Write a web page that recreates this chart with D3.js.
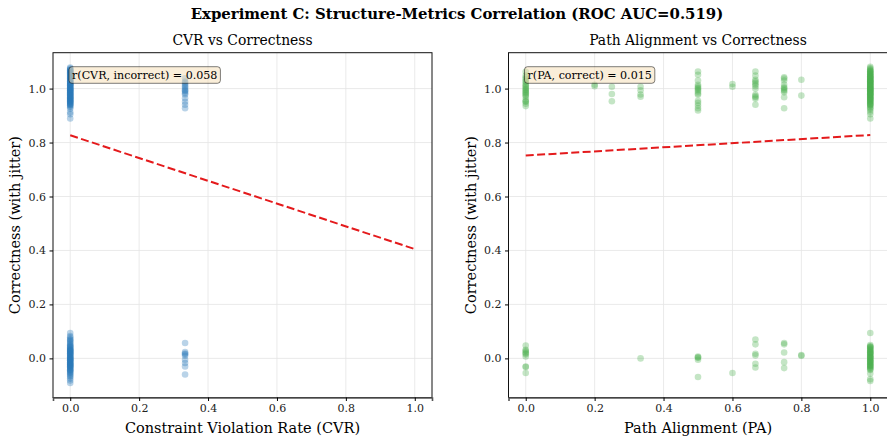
<!DOCTYPE html>
<meta charset="utf-8">
<style>
 body { margin: 0; background: #fff; }
 svg { font-family: "DejaVu Serif", serif; }
 .grid line { stroke: #e5e5e5; stroke-width: 0.8px; }
 .tick text { font-size: 11px; fill: #222; }
 .fit { fill: none; stroke: #e41a1c; stroke-width: 2px; stroke-dasharray: 8,3.4; }
</style>

<svg id="chart" width="887" height="436"></svg>

<script src="https://cdn.jsdelivr.net/npm/d3@7"></script>

<script>

 // CVR panel: jittered correctness per CVR level
 var cvrLevels = [0, 1/3];
 var cvrCorrect = [
     [1.078,1.061,1.043,1.025,1.012,0.997,0.981,0.966,0.952,0.938,1.069,1.034,1.008,0.989,0.973,0.945,
      1.053,1.019,0.994,0.958,1.074,1.047,1.029,1.003,0.977,0.962,0.931,1.057,1.015,0.986,0.949,1.066,
      1.038,1.021,0.999,0.969,0.943,1.049,1.011,0.983,0.955,0.925,1.071,1.041,1.005,0.991,0.964,0.935,
      1.059,1.027,0.979,0.947,0.912,1.063,1.032,1.017,0.993,0.971,0.957,0.889,1.045,1.023,1.001,0.985,
      0.960,0.940,1.055,1.036,0.975,0.951,0.905,1.068,1.013,0.997,0.968],
     [1.038,1.026,1.015,1.004,0.997,0.989,0.978,0.964,0.951,0.940,0.927,1.021,1.009,0.993,0.983]
 ];
 var cvrIncorrect = [
     [0.094,0.078,0.061,0.047,0.033,0.021,0.009,-0.004,-0.016,-0.028,-0.041,-0.055,-0.068,-0.082,0.072,
      0.052,0.038,0.026,0.014,0.002,-0.010,-0.023,-0.036,-0.049,0.065,0.043,0.029,0.017,0.006,-0.007,
      -0.019,-0.031,-0.045,-0.060,-0.091,0.057,0.035,0.011,-0.002,-0.013,-0.026,-0.039,0.048,0.024,
      0.004,-0.021,-0.034,-0.052,-0.075,0.069,0.031,0.016,-0.008,-0.029,0.041,0.019,0.001,-0.015,
      -0.044,0.083,0.027,-0.005,-0.024,-0.064],
     [0.057,0.023,0.018,0.015,0.010,-0.005,-0.017,-0.030,-0.060]
 ];
 var cvrFit = [0.827, 0.405];   // fitted line at x=0 and x=1

 // PA panel
 var paLevels = [0, 0.2, 0.25, 1/3, 0.5, 0.6, 2/3, 0.75, 0.8, 1];
 var paCorrect = [
     [1.062,1.048,1.035,1.024,1.012,1.003,0.995,0.986,0.978,0.969,0.958,0.951,0.944,0.935,1.041,1.017,
      0.998,0.983,0.953,1.028,1.008,0.991,0.974],
     [1.014,1.009],
     [1.007,0.980,0.953],
     [1.007,0.994,0.978,0.970],
     [1.063,1.051,1.030,1.014,1.003,0.995,0.989,0.977,0.947,0.937,0.927,0.919,1.008,0.999,0.982,0.955],
     [1.017,1.007],
     [1.063,1.048,1.033,1.021,1.009,0.999,0.977,0.968,0.962,0.940,1.027,1.015,0.972],
     [1.042,1.030,1.014,1.005,0.996,0.986,0.968,0.927,1.037,1.001,0.992],
     [1.033,0.974],
     [1.081,1.072,1.064,1.055,1.046,1.038,1.029,1.021,1.013,1.004,0.996,0.987,0.979,0.970,0.962,0.953,
      0.945,0.936,0.927,0.914,0.889,1.069,1.051,1.033,1.017,0.999,0.983,0.966,0.949,0.931,1.076,1.058,
      1.041,1.025,1.008,0.991,0.975,0.958,0.941,1.062,1.044,1.027,1.011,0.994,0.977,0.960,0.943,1.066,
      1.048,1.031,1.015,1.001,0.985,0.968,0.951,0.922,1.053,1.035,1.019,1.002,0.989,0.972,0.956,1.059,
      1.039,1.023,1.006,0.993,0.981,0.964,0.939,1.043,1.026,1.010,0.997,0.979,0.905]
 ];
 var paIncorrect = [
     [0.048,0.032,0.023,0.015,0.007,-0.030,-0.032,-0.054,0.028,0.019],
     [],
     [],
     [0.000],
     [0.007,0.002,-0.005,-0.069,0.004],
     [-0.054],
     [0.070,0.052,0.017,0.011,-0.020,-0.034],
     [0.057,0.052,0.022,-0.014,-0.036],
     [0.012,0.010],
     [0.094,0.049,0.041,0.035,0.029,0.023,0.017,0.011,0.005,-0.001,-0.007,-0.013,-0.019,-0.025,-0.031,
      -0.037,-0.043,0.045,0.032,0.020,0.008,-0.004,-0.016,-0.028,-0.040,0.038,0.026,0.014,0.002,-0.010,
      -0.022,-0.034,-0.056,-0.077,-0.084,0.043,0.021,0.003,-0.012,-0.027]
 ];
 var paFit = [0.752, 0.828];

 var xTicks = [0, 0.2, 0.4, 0.6, 0.8, 1.0];
 var yTicks = [0, 0.2, 0.4, 0.6, 0.8, 1.0];

 var svg = d3.select("#chart");
 var plotTop = 52.7, plotBottom = 397.5;

 svg.append("text").attr("x", 457).attr("y", 19).attr("text-anchor", "middle")
    .attr("font-size", "14.9px").attr("font-weight", "bold")
    .text("Experiment C: Structure-Metrics Correlation (ROC AUC=0.519)");

 function flatten(levels, groups) {
     var pts = [];
     groups.forEach(function(ys, i) {
         ys.forEach(function(y) { pts.push({x: levels[i], y: y}); });
     });
     return pts;
 }

 function panel(opt) {
     var x = d3.scaleLinear().domain([-0.05, 1.05]).range([opt.left, opt.right]);
     var y = d3.scaleLinear().domain([-0.145, 1.133]).range([plotBottom, plotTop]);
     var g = svg.append("g");

     // grid
     var grid = g.append("g").attr("class", "grid");
     grid.selectAll(".gx").data(xTicks).enter().append("line")
         .attr("x1", function(d) { return x(d); }).attr("x2", function(d) { return x(d); })
         .attr("y1", plotTop).attr("y2", plotBottom);
     grid.selectAll(".gy").data(yTicks).enter().append("line")
         .attr("y1", function(d) { return y(d); }).attr("y2", function(d) { return y(d); })
         .attr("x1", opt.left).attr("x2", opt.right);

     // points
     g.append("g").selectAll("circle").data(opt.points).enter().append("circle")
      .attr("cx", function(d) { return x(d.x); })
      .attr("cy", function(d) { return y(d.y); })
      .attr("r", 3.3)
      .attr("fill", opt.color).attr("fill-opacity", 0.33);

     // fit line
     g.append("path").attr("class", "fit")
      .attr("d", d3.line()([[x(0), y(opt.fit[0])], [x(1), y(opt.fit[1])]]));

     // frame
     g.append("rect").attr("x", opt.left).attr("y", plotTop)
      .attr("width", opt.right - opt.left).attr("height", plotBottom - plotTop)
      .attr("fill", "none").attr("stroke", "#111").attr("stroke-width", 1);

     // axes
     var ax = g.append("g").attr("transform", "translate(0," + plotBottom + ")")
               .call(d3.axisBottom(x).tickValues(xTicks).tickFormat(d3.format(".1f"))
                     .tickSizeOuter(0).tickSize(3.5).tickPadding(3.5));
     ax.select(".domain").attr("stroke", "#555").attr("stroke-width", 1.6);
     var ay = g.append("g").attr("transform", "translate(" + opt.left + ",0)")
               .call(d3.axisLeft(y).tickValues(yTicks).tickFormat(d3.format(".1f"))
                     .tickSizeOuter(0).tickSize(3.5).tickPadding(3.5));
     ay.select(".domain").remove();
     g.selectAll(".tick text").attr("font-family", "DejaVu Serif");

     // titles
     g.append("text").attr("x", (opt.left + opt.right) / 2).attr("y", 45)
      .attr("text-anchor", "middle").attr("font-size", "13.9px").text(opt.title);
     g.append("text").attr("x", (opt.left + opt.right) / 2).attr("y", 433)
      .attr("text-anchor", "middle").attr("font-size", "14.5px").text(opt.xlabel);
     g.append("text").attr("transform", "translate(" + (opt.left - 33) + "," + ((plotTop + plotBottom) / 2) + ") rotate(-90)")
      .attr("text-anchor", "middle").attr("font-size", "14.5px").text("Correctness (with jitter)");

     // annotation box
     var note = g.append("g");
     var t = note.append("text").attr("x", opt.left + 19).attr("y", 79)
                 .attr("font-size", "11.1px").text(opt.note);
     var bb = t.node().getBBox();
     note.insert("rect", "text")
         .attr("x", bb.x - 3).attr("y", 66.7)
         .attr("width", bb.width + 6).attr("height", 16.6)
         .attr("rx", 3).attr("fill", "wheat").attr("fill-opacity", 0.5)
         .attr("stroke", "#000").attr("stroke-opacity", 0.5).attr("stroke-width", 1);
 }

 panel({
     left: 53, right: 432,
     points: flatten(cvrLevels, cvrCorrect).concat(flatten(cvrLevels, cvrIncorrect)),
     color: "#2a78b8", fit: cvrFit,
     title: "CVR vs Correctness", xlabel: "Constraint Violation Rate (CVR)",
     note: "r(CVR, incorrect) = 0.058"
 });

 panel({
     left: 508.5, right: 887.5,
     points: flatten(paLevels, paCorrect).concat(flatten(paLevels, paIncorrect)),
     color: "#4caf50", fit: paFit,
     title: "Path Alignment vs Correctness", xlabel: "Path Alignment (PA)",
     note: "r(PA, correct) = 0.015"
 });

</script>
